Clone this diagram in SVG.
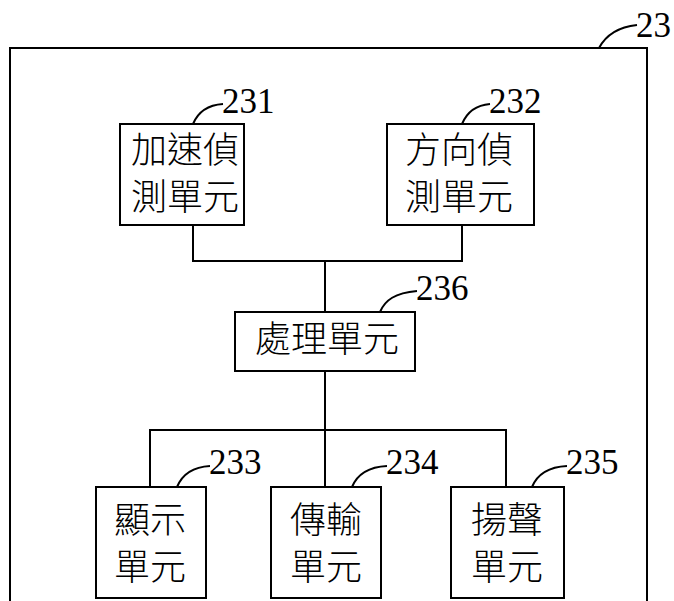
<svg xmlns="http://www.w3.org/2000/svg" width="674" height="601" viewBox="0 0 674 601">
<style>
.box{fill:#fff;stroke:#000;stroke-width:2}
.ln{fill:none;stroke:#000;stroke-width:2}
.cj{font-family:"Noto Sans CJK TC","Noto Sans CJK SC",sans-serif;font-size:36px;font-weight:300;fill:#000;text-anchor:middle}
.num{font-family:"Liberation Serif",serif;font-size:35px;fill:#000}
</style>
<rect width="674" height="601" fill="#fff"/>
<g id="outer">
<path class="ln" d="M10,601 V48 H647 V601" stroke-width="3"/>
<path class="ln" d="M599,48 C606,35 618,27 637,25"/>
<text class="num" x="636" y="37">23</text>
</g>
<g id="connectors">
<path class="ln" d="M193,225 V261 H462 V225"/>
<path class="ln" d="M325,261 V312"/>
<path class="ln" d="M325,371 V430"/>
<path class="ln" d="M150,487 V430 H506 V487"/>
<path class="ln" d="M325,430 V487"/>
</g>
<g id="n231">
<rect class="box" x="120" y="124" width="124" height="101"/>
<text class="cj" x="185" y="163">加速偵</text>
<text class="cj" x="185" y="210">測單元</text>
<path class="ln" d="M193,124 C198,112 208,105 223,104"/>
<text class="num" x="222" y="113">231</text>
</g>
<g id="n232">
<rect class="box" x="387" y="124" width="147" height="101"/>
<text class="cj" x="459" y="163">方向偵</text>
<text class="cj" x="459" y="210">測單元</text>
<path class="ln" d="M462,124 C467,112 477,105 490,104"/>
<text class="num" x="489" y="113">232</text>
</g>
<g id="n236">
<rect class="box" x="235" y="312" width="180" height="59"/>
<text class="cj" x="327" y="352">處理單元</text>
<path class="ln" d="M380,312 C385,300 395,293 417,291"/>
<text class="num" x="416" y="300">236</text>
</g>
<g id="n233">
<rect class="box" x="96" y="487" width="110" height="111"/>
<text class="cj" x="150" y="533">顯示</text>
<text class="cj" x="150" y="580">單元</text>
<path class="ln" d="M177,487 C182,475 192,467 210,466"/>
<text class="num" x="209" y="474">233</text>
</g>
<g id="n234">
<rect class="box" x="271" y="487" width="110" height="111"/>
<text class="cj" x="326" y="533">傳輸</text>
<text class="cj" x="326" y="580">單元</text>
<path class="ln" d="M352,487 C357,475 367,467 387,466"/>
<text class="num" x="386" y="474">234</text>
</g>
<g id="n235">
<rect class="box" x="451" y="487" width="113" height="111"/>
<text class="cj" x="507" y="533">揚聲</text>
<text class="cj" x="507" y="580">單元</text>
<path class="ln" d="M532,487 C537,475 547,467 567,466"/>
<text class="num" x="566" y="474">235</text>
</g>
</svg>
